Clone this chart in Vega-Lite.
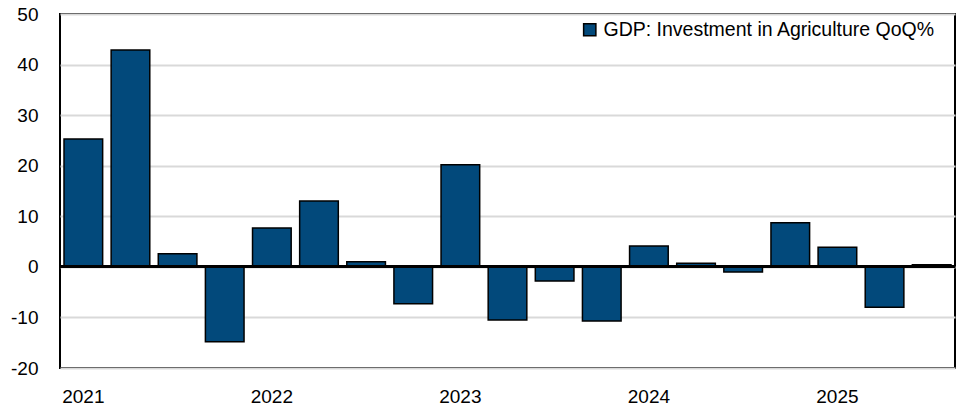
{
  "$schema": "https://vega.github.io/schema/vega-lite/v6.json",
  "width": 895,
  "height": 354,
  "autosize": {"type": "none"},
  "padding": {"left": 60, "top": 14, "right": 2, "bottom": 47},
  "background": "white",
  "config": {
    "font": "Liberation Sans",
    "view": {"stroke": "black", "strokeWidth": 2}
  },
  "data": {
    "values": [
      {"q": "2021Q1", "v": 25.3},
      {"q": "2021Q2", "v": 42.9},
      {"q": "2021Q3", "v": 2.6},
      {"q": "2021Q4", "v": -14.8},
      {"q": "2022Q1", "v": 7.7},
      {"q": "2022Q2", "v": 13.0},
      {"q": "2022Q3", "v": 1.0},
      {"q": "2022Q4", "v": -7.3},
      {"q": "2023Q1", "v": 20.2},
      {"q": "2023Q2", "v": -10.5},
      {"q": "2023Q3", "v": -2.8},
      {"q": "2023Q4", "v": -10.7},
      {"q": "2024Q1", "v": 4.1},
      {"q": "2024Q2", "v": 0.7},
      {"q": "2024Q3", "v": -1.0},
      {"q": "2024Q4", "v": 8.7},
      {"q": "2025Q1", "v": 3.9},
      {"q": "2025Q2", "v": -8.0},
      {"q": "2025Q3", "v": 0.4}
    ]
  },
  "layer": [
    {
      "mark": {"type": "bar", "stroke": "black", "strokeWidth": 1.5},
      "encoding": {
        "x": {
          "field": "q",
          "type": "ordinal",
          "sort": null,
          "scale": {"paddingInner": 0.18, "paddingOuter": 0.085},
          "axis": {
            "title": null,
            "domain": false,
            "ticks": false,
            "labelAngle": 0,
            "labelFontSize": 19,
            "labelColor": "black",
            "labelPadding": 19,
            "labelExpr": "indexof(datum.value, 'Q1') >= 0 ? slice(datum.value, 0, 4) : ''"
          }
        },
        "y": {
          "field": "v",
          "type": "quantitative",
          "scale": {"domain": [-20, 50], "nice": false, "zero": false},
          "axis": {
            "title": null,
            "values": [-20, -10, 0, 10, 20, 30, 40, 50],
            "domain": false,
            "ticks": false,
            "labelFontSize": 19,
            "labelColor": "black",
            "labelPadding": 22,
            "labelExpr": "'' + datum.value",
            "grid": true,
            "gridColor": "#d9d9d9",
            "gridWidth": 2
          }
        },
        "color": {
          "datum": "GDP: Investment in Agriculture QoQ%",
          "type": "nominal",
          "scale": {"range": ["#02497b"]},
          "legend": {
            "title": null,
            "orient": "none",
            "legendX": 520,
            "legendY": 6,
            "symbolType": "square",
            "symbolSize": 150,
            "symbolStrokeColor": "black",
            "symbolStrokeWidth": 1.5,
            "symbolOpacity": 1,
            "labelFontSize": 19.5,
            "labelLimit": 500,
            "labelColor": "black",
            "labelOffset": 4
          }
        }
      }
    },
    {
      "mark": {"type": "rule", "color": "black", "strokeWidth": 2},
      "encoding": {"y": {"datum": 0}}
    }
  ]
}
